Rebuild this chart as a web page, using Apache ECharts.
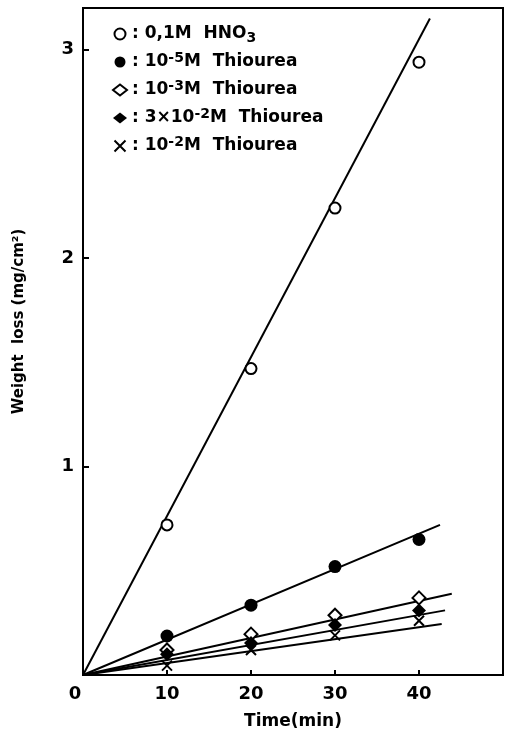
<!DOCTYPE html>
<html><head><meta charset="utf-8">
<script src="https://cdn.jsdelivr.net/npm/echarts@6/dist/echarts.min.js"></script>
<style>html,body{margin:0;padding:0;background:#fff}#c{width:507px;height:735px}</style>
</head><body><div id="c"></div>
<script>
// Data
const times = [10, 20, 30, 40];
const hno3 = [0.72, 1.47, 2.24, 2.94];
const thio5 = [0.187, 0.335, 0.52, 0.65];
const thio3 = [0.12, 0.196, 0.287, 0.37];
const thio3e2 = [0.10, 0.153, 0.24, 0.31];
const thio2 = [0.045, 0.12, 0.19, 0.26];
// fitted line end points [time, weight loss]
const fitHno3 = [[0, 0], [41.3, 3.15]];
const fit5 = [[0, 0], [42.5, 0.72]];
const fit3 = [[0, 0], [43.9, 0.39]];
const fit3e2 = [[0, 0], [43.1, 0.31]];
const fit2 = [[0, 0], [42.7, 0.245]];
const names = ['0,1M HNO3', '10-5M Thiourea', '10-3M Thiourea', '3x10-2M Thiourea', '10-2M Thiourea'];
const legendRich = {
  '0,1M HNO3': '{t|0,1M  HNO}{sub|3}',
  '10-5M Thiourea': '{t|10}{sup|-5}{t|M  Thiourea}',
  '10-3M Thiourea': '{t|10}{sup|-3}{t|M  Thiourea}',
  '3x10-2M Thiourea': '{t|3×10}{sup|-2}{t|M  Thiourea}',
  '10-2M Thiourea': '{t|10}{sup|-2}{t|M  Thiourea}'
};
const xTicks = ['0', '10', '20', '30', '40'];

const font = 'DejaVu Sans';
const pair = (xs, ys) => xs.map((x, i) => [x, ys[i]]);
const openStyle = {color: '#fff', borderColor: '#000', borderWidth: 2, opacity: 1};
const fillStyle = {color: '#000', opacity: 1};
const xPath = 'path://M0,0L10,10M10,0L0,10';

function scatter(name, data, symbol, size, style) {
  return {type: 'scatter', name, data, symbol, symbolSize: size, itemStyle: style, z: 5};
}
function fit(data) {
  return {type: 'line', data, symbol: 'none', lineStyle: {color: '#000', width: 2}, silent: true, z: 3};
}

const chart = echarts.init(document.getElementById('c'));
chart.setOption({
  animation: false,
  backgroundColor: '#fff',
  grid: {left: 83, right: 4, top: 8, bottom: 58, show: true, borderColor: '#000', borderWidth: 2},
  xAxis: {
    type: 'value', min: 0, max: 50, interval: 10,
    axisLine: {lineStyle: {color: '#000', width: 2}},
    axisTick: {inside: true, length: 5, lineStyle: {color: '#000', width: 2}},
    splitLine: {show: false},
    axisLabel: {
      color: '#000', fontFamily: font, fontWeight: 'bold', fontSize: 18, margin: 10,
      formatter: v => {
        const i = xTicks.indexOf(String(v));
        if (i < 0) return '';
        return v === 0 ? '{z|0}' : xTicks[i];
      },
      rich: {z: {fontFamily: font, fontWeight: 'bold', fontSize: 18, color: '#000', padding: [0, 16, 0, 0]}}
    },
    name: 'Time(min)', nameLocation: 'middle', nameGap: 38,
    nameTextStyle: {color: '#000', fontFamily: font, fontWeight: 'bold', fontSize: 17}
  },
  yAxis: {
    type: 'value', min: 0, max: 3.2, interval: 1,
    axisLine: {lineStyle: {color: '#000', width: 2}},
    axisTick: {inside: true, length: 6, lineStyle: {color: '#000', width: 2}},
    splitLine: {show: false},
    axisLabel: {
      color: '#000', fontFamily: font, fontWeight: 'bold', fontSize: 18, margin: 9,
      showMaxLabel: false,
      formatter: v => (v === 0 ? '' : String(v))
    },
    name: 'Weight  loss (mg/cm²)', nameLocation: 'middle', nameRotate: 90, nameGap: 56,
    nameTextStyle: {color: '#000', fontFamily: font, fontWeight: 'bold', fontSize: 15, padding: [0, 0, 0, 40]}
  },
  legend: {
    orient: 'vertical', left: 107, top: 18, itemGap: 6, itemWidth: 14, itemHeight: 11,
    data: names,
    formatter: n => '{c|: }' + legendRich[n],
    textStyle: {
      color: '#000', fontFamily: font, fontSize: 17, lineHeight: 22,
      rich: {
        c: {fontFamily: font, fontWeight: 'bold', fontSize: 17, color: '#000'},
        t: {fontFamily: font, fontWeight: 'bold', fontSize: 17, color: '#000'},
        sup: {fontFamily: font, fontWeight: 'bold', fontSize: 14, color: '#000', verticalAlign: 'top', padding: [0, 0, 12, 0]},
        sub: {fontFamily: font, fontWeight: 'bold', fontSize: 14, color: '#000', verticalAlign: 'bottom', padding: [8, 0, 0, 0]}
      }
    }
  },
  series: [
    fit(fitHno3), fit(fit5), fit(fit3), fit(fit3e2), fit(fit2),
    scatter(names[0], pair(times, hno3), 'circle', 11, openStyle),
    scatter(names[1], pair(times, thio5), 'circle', 13, fillStyle),
    scatter(names[2], pair(times, thio3), 'diamond', 13, openStyle),
    scatter(names[3], pair(times, thio3e2), 'diamond', 14, fillStyle),
    scatter(names[4], pair(times, thio2), xPath, 10, {color: 'none', borderColor: '#000', borderWidth: 2, opacity: 1})
  ]
});
</script></body></html>
